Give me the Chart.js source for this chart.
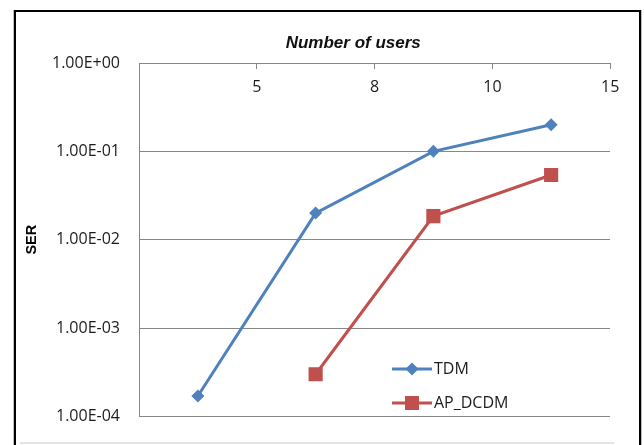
<!DOCTYPE html>
<html>
<head>
<meta charset="utf-8">
<script src="https://cdn.jsdelivr.net/npm/chart.js@4/dist/chart.umd.min.js"></script>
<style>
  html, body { margin: 0; padding: 0; background: #fff; }
  canvas { display: block; }
</style>
</head>
<body>
<canvas id="serChart" width="644" height="445"></canvas>
<script>
//////////////// DATA /////////////////////////////////
var userCounts = ['5', '8', '10', '15'];
var tdmSer = [1.7e-4, 2.0e-2, 1.0e-1, 2.0e-1];
var apDcdmSer = [null, 3.0e-4, 1.85e-2, 5.4e-2];
var serTicks = [1e-4, 1e-3, 1e-2, 1e-1, 1];

var blue = '#4f81bd';
var red = '#c0504d';
var gridColor = '#878787';
var textColor = '#1c1c1c';
var tickFont = { family: 'Open Sans', size: 16 };

// format like Excel: 1.00E-04
function sciLabel(v) {
  var exp = Math.round(Math.log10(v));
  var mant = v / Math.pow(10, exp);
  return mant.toFixed(2) + 'E' + (exp < 0 ? '-' : '+') + String(Math.abs(exp)).padStart(2, '0');
}

//////////////// PLUGINS /////////////////////////////////
// white background + the black frame around the chart object
var framePlugin = {
  id: 'frame',
  beforeDraw: function (chart) {
    var ctx = chart.ctx;
    ctx.save();
    ctx.fillStyle = '#fff';
    ctx.fillRect(0, 0, chart.width, chart.height);
    ctx.fillStyle = '#bdbdbd';
    ctx.fillRect(13, 10, 1, 435);
    ctx.fillRect(641, 10, 1, 435);
    ctx.fillStyle = '#000';
    ctx.fillRect(14, 10, 2, 435);
    ctx.fillRect(14, 10, 627, 2);
    ctx.fillRect(639, 10, 2, 435);
    ctx.fillStyle = '#e4e4e4';
    ctx.fillRect(20, 442, 594, 2);
    ctx.restore();
  }
};

// legend sits inside the plot area, lower right
var innerLegend = {
  id: 'innerLegend',
  afterDatasetsDraw: function (chart) {
    var ctx = chart.ctx;
    var rows = [369, 403];
    ctx.save();
    chart.data.datasets.forEach(function (ds, i) {
      var y = rows[i];
      ctx.strokeStyle = ds.borderColor;
      ctx.lineWidth = 3;
      ctx.beginPath();
      ctx.moveTo(392, y);
      ctx.lineTo(432, y);
      ctx.stroke();
      ctx.fillStyle = ds.backgroundColor;
      ctx.beginPath();
      if (ds.pointStyle === 'rectRot') {
        ctx.moveTo(412, y - 6.5);
        ctx.lineTo(418.5, y);
        ctx.lineTo(412, y + 6.5);
        ctx.lineTo(405.5, y);
        ctx.closePath();
      } else {
        ctx.rect(405, y - 7, 14, 14);
      }
      ctx.fill();
      ctx.fillStyle = textColor;
      ctx.font = tickFont.size + 'px "' + tickFont.family + '"';
      ctx.textBaseline = 'middle';
      ctx.textAlign = 'left';
      ctx.fillText(ds.label, 434, y);
    });
    ctx.restore();
  }
};

//////////////// CHART /////////////////////////////////
var ctx = document.getElementById('serChart').getContext('2d');
var chart = new Chart(ctx, {
  type: 'line',
  data: {
    labels: userCounts,
    datasets: [{
      label: 'TDM',
      data: tdmSer,
      borderColor: blue,
      backgroundColor: blue,
      borderWidth: 3,
      pointStyle: 'rectRot',
      pointRadius: 6.5,
      pointBorderWidth: 0,
      tension: 0
    }, {
      label: 'AP_DCDM',
      data: apDcdmSer,
      borderColor: red,
      backgroundColor: red,
      borderWidth: 3,
      pointStyle: 'rect',
      pointRadius: 10,
      pointBorderWidth: 0,
      tension: 0
    }]
  },
  options: {
    responsive: false,
    animation: false,
    layout: { padding: { left: 0, right: 34, top: 0, bottom: 22 } },
    plugins: {
      legend: { display: false },
      tooltip: { enabled: false }
    },
    scales: {
      x: {
        type: 'category',
        position: 'top',
        offset: true,
        grid: { offset: true, drawOnChartArea: false, drawTicks: true, tickLength: -6, color: gridColor },
        border: { color: gridColor, width: 1 },
        // labels sit under the axis line, on the category boundaries
        ticks: { font: tickFont, color: textColor, mirror: true, padding: 15, labelOffset: 59, maxRotation: 0, autoSkip: false },
        title: {
          display: true,
          // trailing nbsp pulls the centred title a bit left, like Excel did
          text: 'Number of users\u00a0\u00a0\u00a0\u00a0\u00a0\u00a0\u00a0\u00a0\u00a0',
          color: '#111',
          font: { family: 'Liberation Sans', size: 17, style: 'italic', weight: 'bold' },
          padding: { top: 33, bottom: 0 }
        },
        afterFit: function (scale) { scale.height = 63; }
      },
      y: {
        type: 'logarithmic',
        min: 1e-4,
        max: 1,
        afterBuildTicks: function (scale) {
          scale.ticks = serTicks.map(function (v) { return { value: v }; });
        },
        grid: { color: gridColor, drawTicks: false },
        border: { color: gridColor, width: 1 },
        ticks: {
          font: tickFont,
          color: textColor,
          padding: 19,
          autoSkip: false,
          callback: function (value) { return sciLabel(value); }
        },
        title: {
          display: true,
          text: 'SER',
          color: '#000',
          font: { family: 'Liberation Sans', size: 14.5, weight: 'bold' },
          padding: { top: 23, bottom: 0 }
        },
        afterFit: function (scale) { scale.width = 139; }
      }
    }
  },
  plugins: [framePlugin, innerLegend]
});
</script>
</body>
</html>
